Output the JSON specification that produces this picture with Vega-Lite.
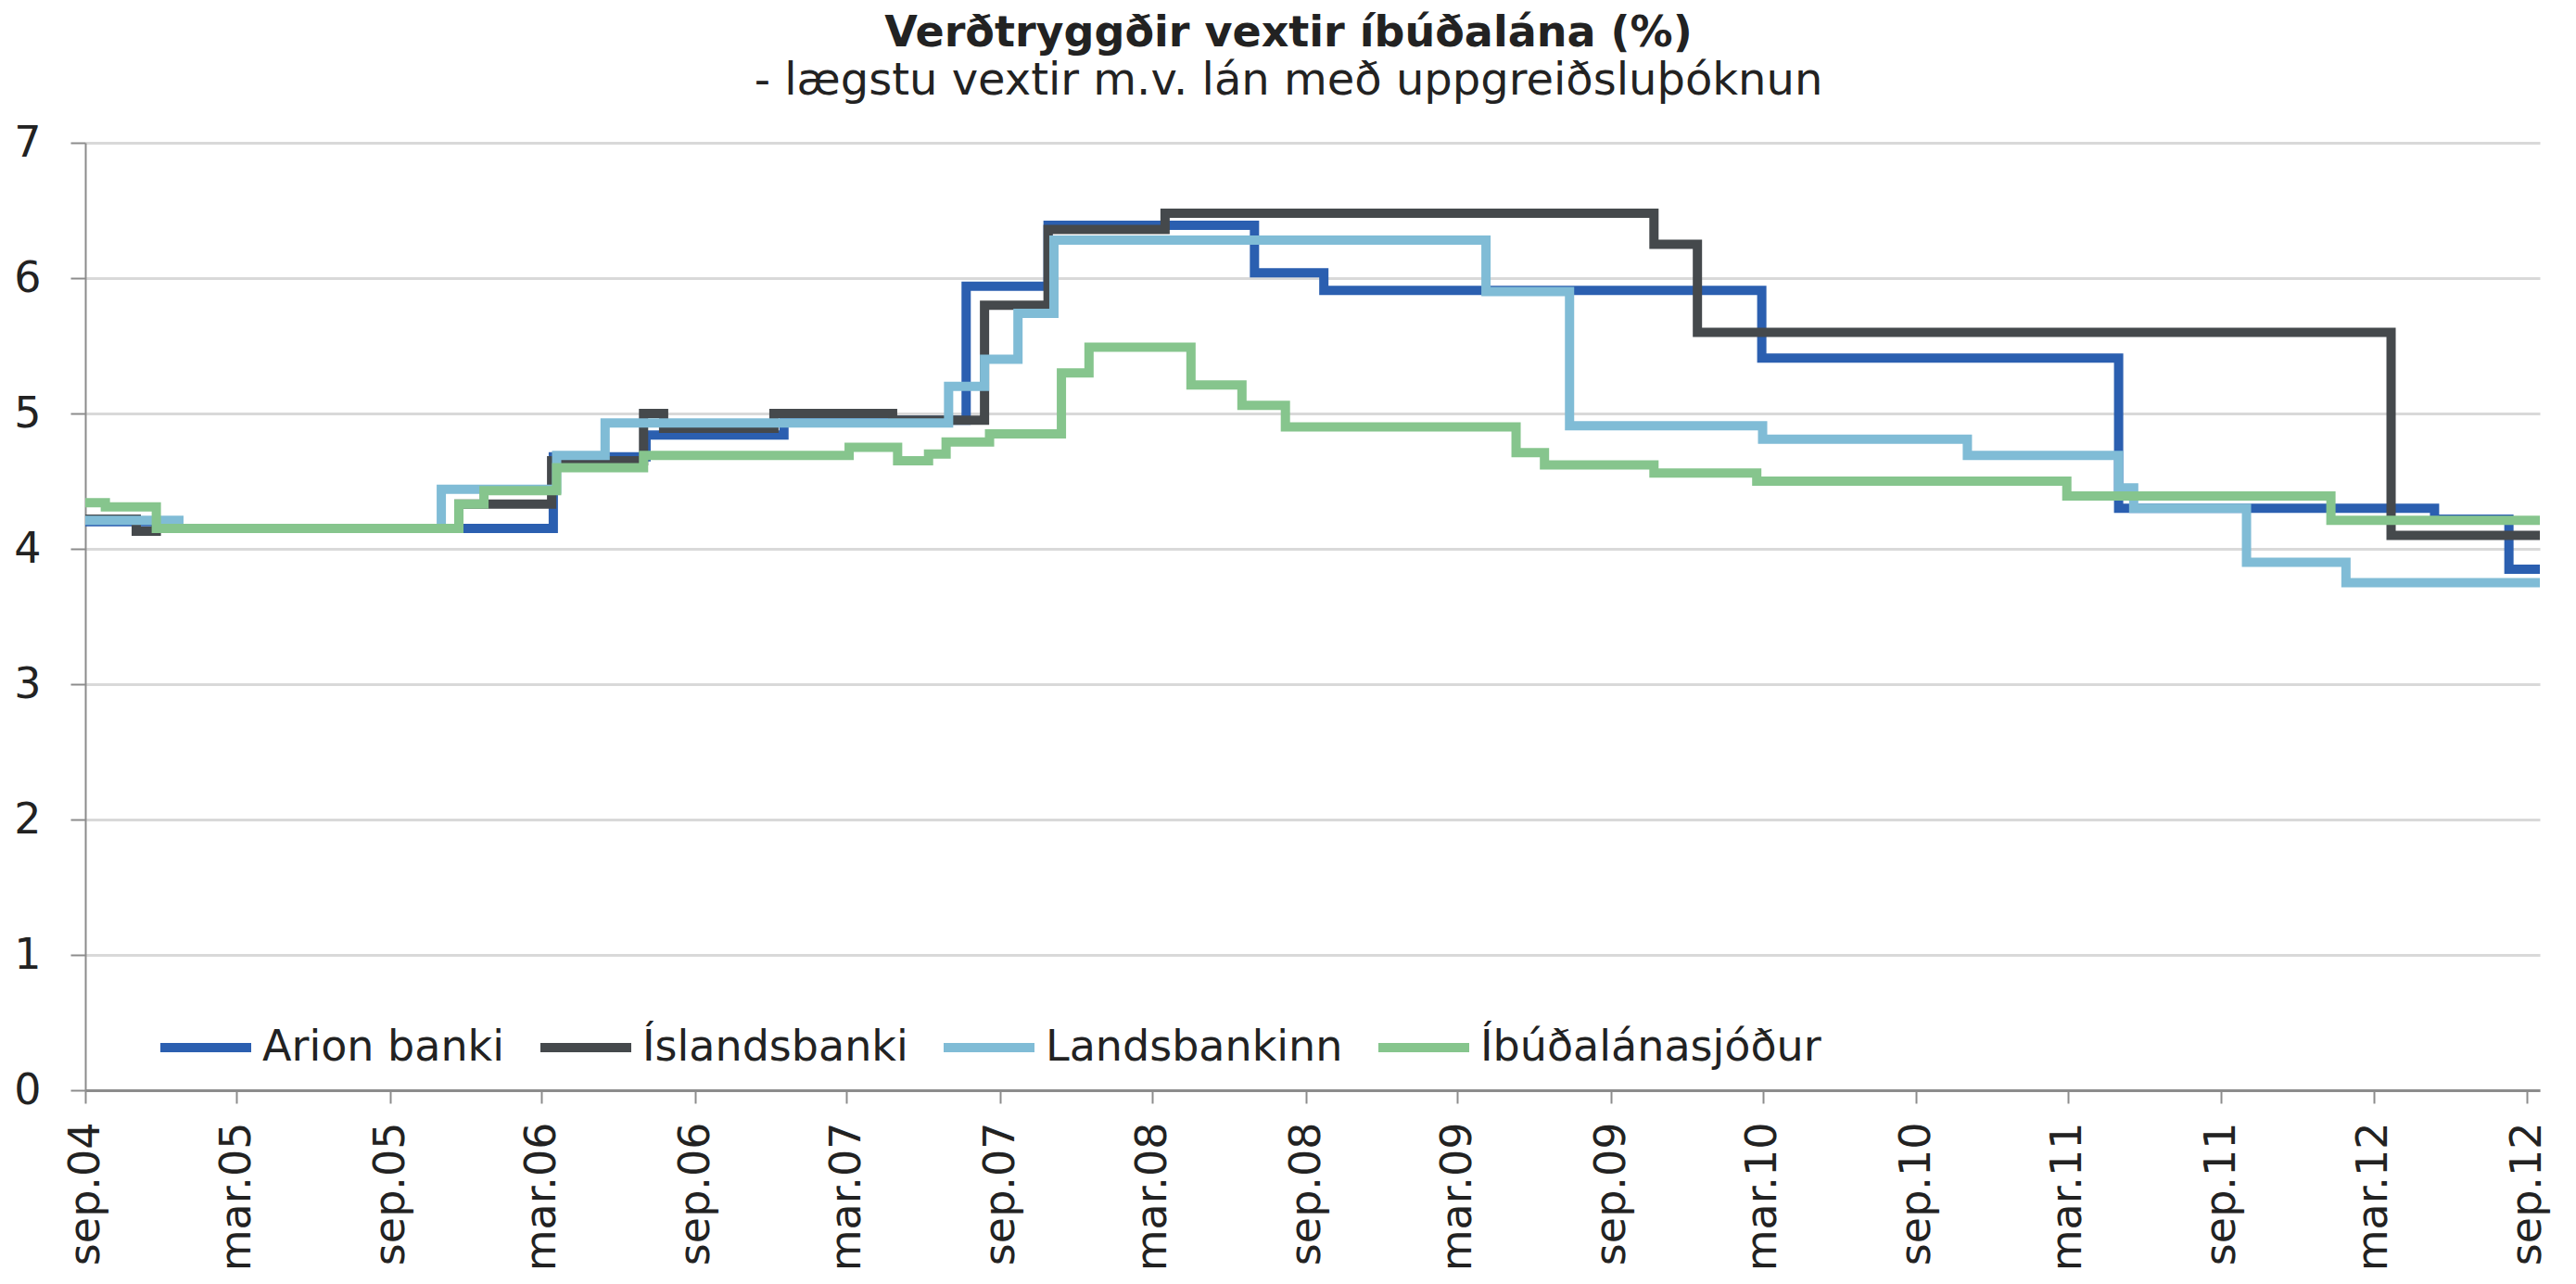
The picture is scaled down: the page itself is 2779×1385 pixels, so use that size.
{
  "$schema": "https://vega.github.io/schema/vega-lite/v6.json",
  "width": 2648,
  "height": 1022,
  "autosize": {"type": "none"},
  "padding": {"left": 92, "top": 154, "right": 39, "bottom": 209},
  "background": "white",
  "config": {"view": {"stroke": null}, "font": "DejaVu Sans"},
  "title": {
    "text": "Verðtryggðir vextir íbúðalána (%)",
    "subtitle": "- lægstu vextir m.v. lán með uppgreiðsluþóknun",
    "anchor": "middle",
    "frame": "group",
    "dx": -26,
    "font": "DejaVu Sans",
    "fontSize": 46,
    "fontWeight": "bold",
    "color": "#222222",
    "subtitleFont": "DejaVu Sans",
    "subtitleFontSize": 48,
    "subtitleColor": "#222222",
    "subtitlePadding": 4,
    "offset": 18
  },
  "data": {
    "values": [
      {"banki": "Arion banki", "dags": "2004-09-01", "vextir": 4.2},
      {"banki": "Arion banki", "dags": "2004-11-25", "vextir": 4.15},
      {"banki": "Arion banki", "dags": "2006-03-15", "vextir": 4.68},
      {"banki": "Arion banki", "dags": "2006-07-04", "vextir": 4.84},
      {"banki": "Arion banki", "dags": "2006-12-16", "vextir": 4.95},
      {"banki": "Arion banki", "dags": "2007-07-22", "vextir": 5.94},
      {"banki": "Arion banki", "dags": "2007-10-28", "vextir": 6.39},
      {"banki": "Arion banki", "dags": "2008-07-01", "vextir": 6.04},
      {"banki": "Arion banki", "dags": "2008-09-22", "vextir": 5.91},
      {"banki": "Arion banki", "dags": "2010-02-28", "vextir": 5.41},
      {"banki": "Arion banki", "dags": "2011-05-01", "vextir": 4.3},
      {"banki": "Arion banki", "dags": "2012-05-13", "vextir": 4.22},
      {"banki": "Arion banki", "dags": "2012-08-10", "vextir": 3.85},
      {"banki": "Arion banki", "dags": "2012-09-16", "vextir": 3.85},

      {"banki": "Íslandsbanki", "dags": "2004-09-01", "vextir": 4.22},
      {"banki": "Íslandsbanki", "dags": "2004-11-01", "vextir": 4.13},
      {"banki": "Íslandsbanki", "dags": "2004-11-25", "vextir": 4.15},
      {"banki": "Íslandsbanki", "dags": "2005-11-22", "vextir": 4.33},
      {"banki": "Íslandsbanki", "dags": "2006-03-13", "vextir": 4.65},
      {"banki": "Íslandsbanki", "dags": "2006-07-01", "vextir": 5.0},
      {"banki": "Íslandsbanki", "dags": "2006-07-25", "vextir": 4.89},
      {"banki": "Íslandsbanki", "dags": "2006-12-04", "vextir": 5.0},
      {"banki": "Íslandsbanki", "dags": "2007-04-25", "vextir": 4.95},
      {"banki": "Íslandsbanki", "dags": "2007-08-13", "vextir": 5.8},
      {"banki": "Íslandsbanki", "dags": "2007-10-28", "vextir": 6.36},
      {"banki": "Íslandsbanki", "dags": "2008-03-16", "vextir": 6.48},
      {"banki": "Íslandsbanki", "dags": "2009-10-22", "vextir": 6.25},
      {"banki": "Íslandsbanki", "dags": "2009-12-13", "vextir": 5.6},
      {"banki": "Íslandsbanki", "dags": "2012-03-22", "vextir": 4.1},
      {"banki": "Íslandsbanki", "dags": "2012-09-16", "vextir": 4.1},

      {"banki": "Landsbankinn", "dags": "2004-09-01", "vextir": 4.21},
      {"banki": "Landsbankinn", "dags": "2004-12-22", "vextir": 4.15},
      {"banki": "Landsbankinn", "dags": "2005-11-01", "vextir": 4.44},
      {"banki": "Landsbankinn", "dags": "2006-03-19", "vextir": 4.69},
      {"banki": "Landsbankinn", "dags": "2006-05-16", "vextir": 4.93},
      {"banki": "Landsbankinn", "dags": "2007-07-01", "vextir": 5.2},
      {"banki": "Landsbankinn", "dags": "2007-08-13", "vextir": 5.4},
      {"banki": "Landsbankinn", "dags": "2007-09-22", "vextir": 5.74},
      {"banki": "Landsbankinn", "dags": "2007-11-04", "vextir": 6.28},
      {"banki": "Landsbankinn", "dags": "2009-04-04", "vextir": 5.9},
      {"banki": "Landsbankinn", "dags": "2009-07-13", "vextir": 4.91},
      {"banki": "Landsbankinn", "dags": "2010-03-01", "vextir": 4.81},
      {"banki": "Landsbankinn", "dags": "2010-11-01", "vextir": 4.69},
      {"banki": "Landsbankinn", "dags": "2011-05-01", "vextir": 4.45},
      {"banki": "Landsbankinn", "dags": "2011-05-19", "vextir": 4.3},
      {"banki": "Landsbankinn", "dags": "2011-10-01", "vextir": 3.9},
      {"banki": "Landsbankinn", "dags": "2012-01-28", "vextir": 3.75},
      {"banki": "Landsbankinn", "dags": "2012-09-16", "vextir": 3.75},

      {"banki": "Íbúðalánasjóður", "dags": "2004-09-01", "vextir": 4.34},
      {"banki": "Íbúðalánasjóður", "dags": "2004-09-25", "vextir": 4.31},
      {"banki": "Íbúðalánasjóður", "dags": "2004-11-25", "vextir": 4.15},
      {"banki": "Íbúðalánasjóður", "dags": "2005-11-22", "vextir": 4.33},
      {"banki": "Íbúðalánasjóður", "dags": "2005-12-22", "vextir": 4.43},
      {"banki": "Íbúðalánasjóður", "dags": "2006-03-19", "vextir": 4.6},
      {"banki": "Íbúðalánasjóður", "dags": "2006-07-01", "vextir": 4.69},
      {"banki": "Íbúðalánasjóður", "dags": "2007-03-04", "vextir": 4.75},
      {"banki": "Íbúðalánasjóður", "dags": "2007-05-01", "vextir": 4.65},
      {"banki": "Íbúðalánasjóður", "dags": "2007-06-07", "vextir": 4.7},
      {"banki": "Íbúðalánasjóður", "dags": "2007-06-28", "vextir": 4.79},
      {"banki": "Íbúðalánasjóður", "dags": "2007-08-19", "vextir": 4.85},
      {"banki": "Íbúðalánasjóður", "dags": "2007-11-13", "vextir": 5.3},
      {"banki": "Íbúðalánasjóður", "dags": "2007-12-16", "vextir": 5.49},
      {"banki": "Íbúðalánasjóður", "dags": "2008-04-16", "vextir": 5.21},
      {"banki": "Íbúðalánasjóður", "dags": "2008-06-16", "vextir": 5.06},
      {"banki": "Íbúðalánasjóður", "dags": "2008-08-07", "vextir": 4.9},
      {"banki": "Íbúðalánasjóður", "dags": "2009-05-10", "vextir": 4.71},
      {"banki": "Íbúðalánasjóður", "dags": "2009-06-13", "vextir": 4.62},
      {"banki": "Íbúðalánasjóður", "dags": "2009-10-22", "vextir": 4.56},
      {"banki": "Íbúðalánasjóður", "dags": "2010-02-22", "vextir": 4.5},
      {"banki": "Íbúðalánasjóður", "dags": "2011-02-28", "vextir": 4.39},
      {"banki": "Íbúðalánasjóður", "dags": "2012-01-10", "vextir": 4.21},
      {"banki": "Íbúðalánasjóður", "dags": "2012-09-16", "vextir": 4.21}
    ]
  },
  "encoding": {
    "x": {
      "field": "dags",
      "type": "temporal",
      "scale": {
        "type": "utc",
        "domain": [
          {"year": 2004, "month": 9, "date": 1, "utc": true},
          {"year": 2012, "month": 9, "date": 16, "utc": true}
        ]
      },
      "axis": {
        "title": null,
        "grid": false,
        "values": [
          {"year": 2004, "month": 9, "date": 1, "utc": true},
          {"year": 2005, "month": 3, "date": 1, "utc": true},
          {"year": 2005, "month": 9, "date": 1, "utc": true},
          {"year": 2006, "month": 3, "date": 1, "utc": true},
          {"year": 2006, "month": 9, "date": 1, "utc": true},
          {"year": 2007, "month": 3, "date": 1, "utc": true},
          {"year": 2007, "month": 9, "date": 1, "utc": true},
          {"year": 2008, "month": 3, "date": 1, "utc": true},
          {"year": 2008, "month": 9, "date": 1, "utc": true},
          {"year": 2009, "month": 3, "date": 1, "utc": true},
          {"year": 2009, "month": 9, "date": 1, "utc": true},
          {"year": 2010, "month": 3, "date": 1, "utc": true},
          {"year": 2010, "month": 9, "date": 1, "utc": true},
          {"year": 2011, "month": 3, "date": 1, "utc": true},
          {"year": 2011, "month": 9, "date": 1, "utc": true},
          {"year": 2012, "month": 3, "date": 1, "utc": true},
          {"year": 2012, "month": 9, "date": 1, "utc": true}
        ],
        "labelExpr": "lower(utcFormat(datum.value, '%b')) + '.' + utcFormat(datum.value, '%y')",
        "labelAngle": -90,
        "labelFontSize": 46,
        "labelFont": "DejaVu Sans",
        "labelColor": "#222222",
        "labelPadding": 20,
        "labelOverlap": false,
        "labelFlush": false,
        "labelBound": false,
        "tickSize": 14,
        "tickColor": "#8c8c8c",
        "tickWidth": 2,
        "domainColor": "#8c8c8c",
        "domainWidth": 3
      }
    },
    "y": {
      "field": "vextir",
      "type": "quantitative",
      "scale": {"domain": [0, 7], "nice": false, "zero": true},
      "axis": {
        "title": null,
        "values": [0, 1, 2, 3, 4, 5, 6, 7],
        "labelFontSize": 46,
        "labelFont": "DejaVu Sans",
        "labelColor": "#222222",
        "labelPadding": 32,
        "tickSize": 16,
        "tickColor": "#8c8c8c",
        "tickWidth": 2,
        "domainColor": "#8c8c8c",
        "domainWidth": 2,
        "gridColor": "#d9d9d9",
        "gridWidth": 3
      }
    },
    "color": {
      "field": "banki",
      "type": "nominal",
      "scale": {
        "domain": ["Arion banki", "Íslandsbanki", "Landsbankinn", "Íbúðalánasjóður"],
        "range": ["#2b5fb0", "#45494c", "#80bcd6", "#86c58d"]
      },
      "legend": {
        "orient": "none",
        "legendX": 76,
        "legendY": 922,
        "direction": "horizontal",
        "title": null,
        "symbolType": "stroke",
        "symbolSize": 9604,
        "symbolStrokeWidth": 10,
        "labelFontSize": 46,
        "labelFont": "DejaVu Sans",
        "labelColor": "#222222",
        "labelOffset": 7,
        "labelLimit": 1000,
        "columnPadding": 18,
        "padding": 0
      }
    }
  },
  "layer": [
    {"transform": [{"filter": "datum.banki === 'Arion banki'"}], "mark": {"type": "line", "interpolate": "step-after", "strokeWidth": 10}},
    {"transform": [{"filter": "datum.banki === 'Íslandsbanki'"}], "mark": {"type": "line", "interpolate": "step-after", "strokeWidth": 10}},
    {"transform": [{"filter": "datum.banki === 'Landsbankinn'"}], "mark": {"type": "line", "interpolate": "step-after", "strokeWidth": 10}},
    {"transform": [{"filter": "datum.banki === 'Íbúðalánasjóður'"}], "mark": {"type": "line", "interpolate": "step-after", "strokeWidth": 10}}
  ]
}
